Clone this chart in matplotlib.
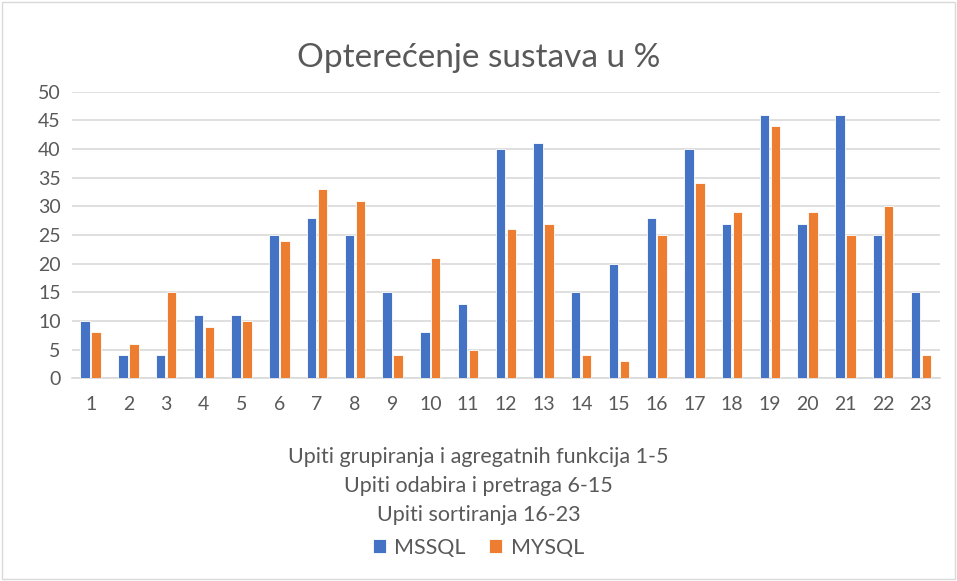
import numpy as np
import matplotlib.pyplot as plt
from matplotlib.patches import Rectangle

plt.rcParams['font.family'] = ['Lato', 'DejaVu Sans']

# --------------------------------------------------
# DATA
# --------------------------------------------------

queries = [str(i) for i in range(1, 24)]
mssql = [10, 4, 4, 11, 11, 25, 28, 25, 15, 8, 13, 40, 41, 15, 20, 28, 40, 27, 46, 27, 46, 25, 15]
mysql = [8, 6, 15, 9, 10, 24, 33, 31, 4, 21, 5, 26, 27, 4, 3, 25, 34, 29, 44, 29, 25, 30, 4]
y_ticks = list(range(0, 55, 5))
group_notes = ["Upiti grupiranja i agregatnih funkcija 1-5",
               "Upiti odabira i pretraga 6-15",
               "Upiti sortiranja 16-23"]

blue = "#4472c4"
orange = "#ed7d31"
text_col = "#595959"

# --------------------------------------------------
# PLOT
# --------------------------------------------------

fig = plt.figure(figsize=(9.57, 5.81), dpi=100)
ax = fig.add_axes([0.075, 0.349, 0.907, 0.493])

x = np.arange(len(queries))
w = 0.25

ax.bar(x - 0.145, mssql, w, color=blue, edgecolor="white", linewidth=0.6, label="MSSQL", zorder=3)
ax.bar(x + 0.145, mysql, w, color=orange, edgecolor="white", linewidth=0.6, label="MYSQL", zorder=3)

ax.set_xlim(-0.5, len(queries) - 0.5)
ax.set_ylim(0, 50)
ax.set_yticks(y_ticks)
ax.set_xticks(x)
ax.set_xticklabels(queries)

ax.grid(axis="y", color="#d9d9d9", linewidth=1.2, zorder=0)
for s in ["top", "right", "left"]:
    ax.spines[s].set_visible(False)
ax.spines["bottom"].set_color("#d9d9d9")
ax.spines["bottom"].set_linewidth(1.2)
ax.tick_params(length=0, labelsize=14, colors=text_col, pad=8)
ax.tick_params(axis="x", pad=13)

# axis title, three lines
for i, line in enumerate(group_notes):
    fig.text(0.5, 0.2134 - i * 0.0499, line, ha="center", va="center",
             fontsize=15.5, color=text_col)

fig.text(0.5, 0.90, "Opterećenje sustava u %", ha="center", va="center",
         fontsize=24, color=text_col)

fig.legend(loc="center", bbox_to_anchor=(0.5, 0.057), ncol=2, frameon=False,
           fontsize=15.5, labelcolor=text_col, handlelength=0.6, handleheight=0.6,
           columnspacing=1.1, handletextpad=0.4)

fig.patches.append(Rectangle((0.002, 0.003), 0.996, 0.994, transform=fig.transFigure,
                             fill=False, edgecolor="#d9d9d9", linewidth=1))

fig.savefig("out.png", dpi=100)
